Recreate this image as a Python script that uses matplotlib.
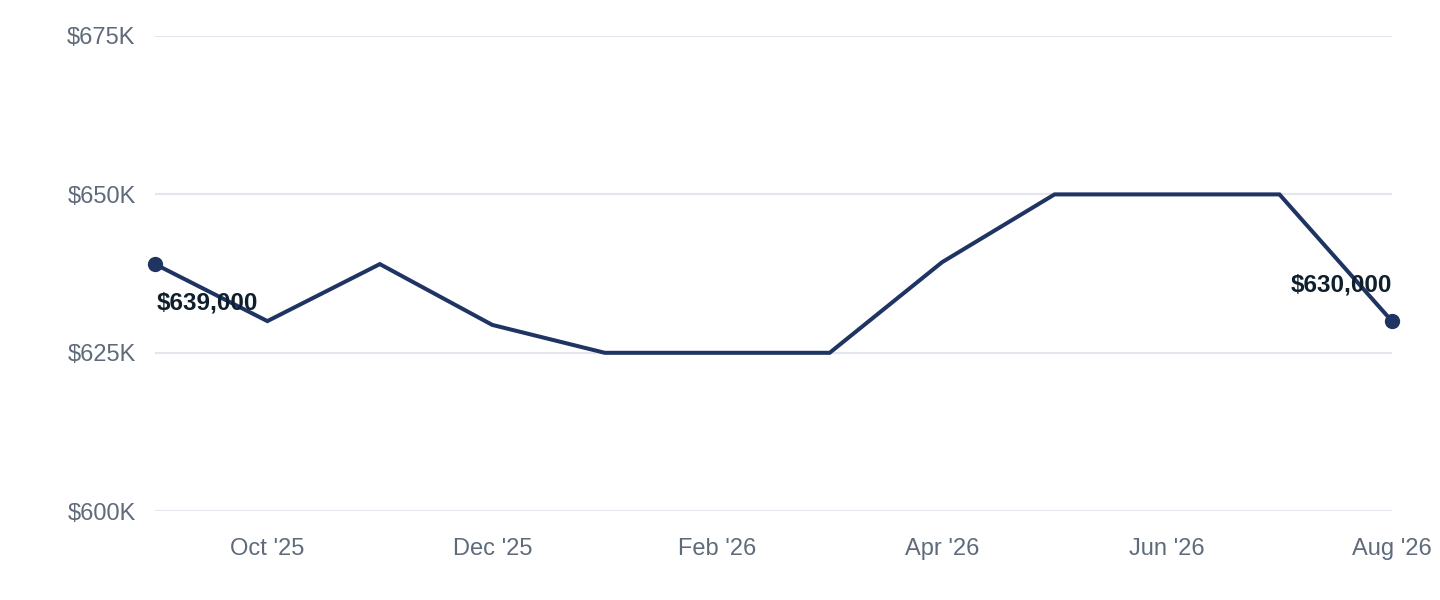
import matplotlib.pyplot as plt
from matplotlib.ticker import FuncFormatter

plt.rcParams['font.family'] = ['Liberation Sans', 'DejaVu Sans']

# Monthly median price, Sep '25 .. Aug '26
months = ["Sep '25", "Oct '25", "Nov '25", "Dec '25", "Jan '26", "Feb '26",
          "Mar '26", "Apr '26", "May '26", "Jun '26", "Jul '26", "Aug '26"]
prices = [639000, 630000, 639000, 629400, 625000, 625000,
          625000, 639300, 650000, 650000, 650000, 630000]
yticks = [600000, 625000, 650000, 675000]

line_color = '#1f3462'
tick_color = '#5f6b7a'
label_color = '#0f1f2b'

fig = plt.figure(figsize=(14.4, 6), dpi=100)
ax = fig.add_axes([0.1076, 0.148, 0.859, 0.792])

x = list(range(len(months)))
ax.plot(x, prices, color=line_color, lw=2.9, solid_joinstyle='miter', zorder=3)
ax.plot([x[0], x[-1]], [prices[0], prices[-1]], 'o', color=line_color,
        markersize=10, zorder=4, clip_on=False)

# end labels
ax.annotate(f'${prices[0]:,}', (x[0], prices[0]), xytext=(1, -28),
            textcoords='offset points', ha='left', va='center',
            fontsize=17.5, fontweight='bold', color=label_color, zorder=5)
ax.annotate(f'${prices[-1]:,}', (x[-1], prices[-1]), xytext=(0, 26),
            textcoords='offset points', ha='right', va='center',
            fontsize=17.5, fontweight='bold', color=label_color, zorder=5)

ax.set_xlim(x[0], x[-1])
ax.set_ylim(yticks[0], yticks[-1])
ax.set_yticks(yticks)
ax.yaxis.set_major_formatter(FuncFormatter(lambda v, p: f'${v/1000:.0f}K'))
ax.set_xticks(x[1::2])
ax.set_xticklabels(months[1::2])

ax.grid(axis='y', color='#e3e6ec', lw=1.5)
ax.set_axisbelow(True)
for s in ax.spines.values():
    s.set_visible(False)
ax.tick_params(axis='both', length=0, labelsize=17, labelcolor=tick_color)
ax.tick_params(axis='y', pad=14)
ax.tick_params(axis='x', pad=19)

fig.savefig('out.png', dpi=100, facecolor='white')
